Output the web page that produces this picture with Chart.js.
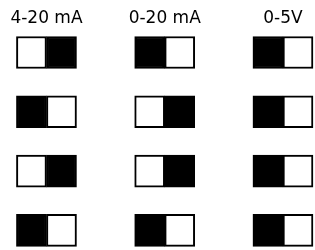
<!DOCTYPE html>
<html>
<head>
<meta charset="utf-8">
<script src="https://cdn.jsdelivr.net/npm/chart.js@4/dist/chart.umd.min.js"></script>
<style>
html,body{margin:0;padding:0;background:#fff;}
#wrap{width:315px;height:250px;position:relative;}
</style>
</head>
<body>
<div id="wrap"><canvas id="c"></canvas></div>
<script>
// Column labels (switch ranges)
const columnLabels = ['4-20 mA', '0-20 mA', '0-5V'];
// Switch rows (1 = top)
const rows = [1, 2, 3, 4];
// 1 = black half on the right, 0 = black half on the left
const blackRight_4_20mA = [1, 0, 1, 0];
const blackRight_0_20mA = [0, 1, 1, 0];
const blackRight_0_5V   = [0, 0, 0, 0];

const states = [blackRight_4_20mA, blackRight_0_20mA, blackRight_0_5V];
const halfW = 0.254;

const datasets = [];
columnLabels.forEach((lab, ci) => {
  const c = ci + 1;
  const st = states[ci];
  const leftData = rows.map(r => ({ y: r, x: [c - halfW, c] }));
  const rightData = rows.map(r => ({ y: r, x: [c, c + halfW] }));
  const leftColors = st.map(v => v ? '#ffffff' : '#000000');
  const rightColors = st.map(v => v ? '#000000' : '#ffffff');
  datasets.push({ label: lab + ' L', data: leftData, backgroundColor: leftColors });
  datasets.push({ label: lab + ' R', data: rightData, backgroundColor: rightColors });
});
datasets.forEach(d => {
  d.borderColor = '#000';
  d.borderWidth = 2;
  d.borderSkipped = false;
  d.barThickness = 32;
  d.grouped = false;
});

const labelPlugin = {
  id: 'colLabels',
  afterDraw(chart) {
    const ctx = chart.ctx;
    const xs = chart.scales.x, ys = chart.scales.y;
    ctx.save();
    ctx.fillStyle = '#000';
    ctx.font = '17px "DejaVu Sans"';
    ctx.textAlign = 'center';
    ctx.textBaseline = 'middle';
    columnLabels.forEach((lab, ci) => {
      ctx.fillText(lab, xs.getPixelForValue(ci + 1), ys.getPixelForValue(0.42));
    });
    ctx.restore();
  }
};

new Chart(document.getElementById('c'), {
  type: 'bar',
  data: { datasets },
  options: {
    indexAxis: 'y',
    responsive: true,
    maintainAspectRatio: false,
    animation: false,
    layout: { padding: 0 },
    plugins: { legend: { display: false }, tooltip: { enabled: false } },
    scales: {
      x: { type: 'linear', min: 0.607, max: 3.271, display: false, offset: false },
      y: { type: 'linear', min: 0.115, max: 4.331, reverse: true, display: false, offset: false }
    }
  },
  plugins: [labelPlugin]
});
</script>
</body>
</html>
